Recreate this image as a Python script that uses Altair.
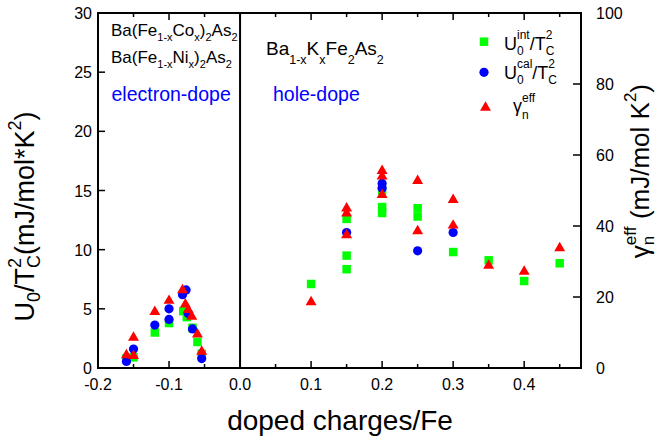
import altair as alt
import pandas as pd

FONT = "Liberation Sans"

# ---------------- data ----------------
# electron-doped side (negative doped charges)
e_green_x = [-0.16, -0.15, -0.12, -0.10, -0.080, -0.075, -0.067, -0.060, -0.054]
e_green_y = [0.8, 0.9, 3.0, 3.8, 4.8, 4.3, 3.4, 2.2, 1.2]
e_blue_x = [-0.16, -0.15, -0.12, -0.10, -0.10, -0.081, -0.076, -0.073, -0.067, -0.054]
e_blue_y = [0.55, 1.6, 3.63, 5.0, 4.1, 6.2, 6.6, 4.6, 3.3, 0.8]
e_red_x = [-0.16, -0.15, -0.15, -0.12, -0.10, -0.081, -0.077, -0.073, -0.068, -0.060, -0.054]
e_red_g = [4.1, 3.9, 9.0, 16.3, 19.4, 22.4, 18.4, 16.8, 14.9, 9.9, 5.1]

# hole-doped side
h_green_x = [0.10, 0.15, 0.15, 0.15, 0.20, 0.20, 0.20, 0.25, 0.25, 0.30, 0.35, 0.40, 0.45]
h_green_y = [7.1, 12.6, 9.5, 8.35, 15.0, 13.6, 13.1, 13.5, 12.8, 9.8, 9.1, 7.35, 8.85]
h_blue_x = [0.15, 0.20, 0.20, 0.25, 0.30]
h_blue_y = [11.45, 15.6, 15.2, 9.9, 11.45]
h_red_x = [0.10, 0.15, 0.15, 0.15, 0.20, 0.20, 0.20, 0.25, 0.25, 0.30, 0.30, 0.35, 0.40, 0.45]
h_red_g = [19.0, 45.4, 44.0, 37.9, 56.0, 54.4, 49.2, 53.2, 39.0, 47.8, 40.6, 29.3, 27.6, 34.2]

# axis ticks and labels
x_label_values = [-0.2, -0.1, 0.0, 0.1, 0.2, 0.3, 0.4]
x_label_text = ["-0.2", "-0.1", "0.0", "0.1", "0.2", "0.3", "0.4"]
x_tick_major = [-0.1, 0.0, 0.1, 0.2, 0.3, 0.4]
x_tick_minor = [-0.15, -0.05, 0.05, 0.15, 0.25, 0.35, 0.45]
y_left_values = [0, 5, 10, 15, 20, 25, 30]
y_left_text = ["0", "5", "10", "15", "20", "25", "30"]
y_right_values = [0, 20, 40, 60, 80, 100]
y_right_text = ["0", "20", "40", "60", "80", "100"]

# right axis (gamma, 0..100) spans the same height as left axis (0..30)
G_TO_LEFT = "30 / 100"

GREEN = "#00ff00"
BLUE = "#0000ff"
RED = "#ff0000"

# ---------------- layout ----------------
PL, PT = 98, 13
W, H = 483, 355

green_df = pd.DataFrame({"x": e_green_x + h_green_x, "y": e_green_y + h_green_y})
blue_df = pd.DataFrame({"x": e_blue_x + h_blue_x, "y": e_blue_y + h_blue_y})
red_df = pd.DataFrame({"x": e_red_x + h_red_x, "g": e_red_g + h_red_g})
one = pd.DataFrame({"a": [0]})

xscale = alt.Scale(domain=[-0.2, 0.48], nice=False, zero=False)
yscale = alt.Scale(domain=[0, 30], nice=False, zero=False)


def X(f):
    return alt.X(f, scale=xscale, axis=None)


def Y(f):
    return alt.Y(f, scale=yscale, axis=None)


green = alt.Chart(green_df).mark_point(shape="square", filled=True, size=72, color=GREEN,
                                       opacity=1, strokeWidth=0).encode(x=X("x:Q"), y=Y("y:Q"))
blue = alt.Chart(blue_df).mark_point(shape="circle", filled=True, size=85, color=BLUE,
                                     opacity=1, strokeWidth=0).encode(x=X("x:Q"), y=Y("y:Q"))
red = alt.Chart(red_df).transform_calculate(yl="datum.g * " + G_TO_LEFT).mark_point(
    shape="triangle-up", filled=True, size=120, color=RED, opacity=1, strokeWidth=0).encode(
    x=X("x:Q"), y=Y("yl:Q"))

vline_df = pd.DataFrame({"v": [0.0]})
vline = alt.Chart(vline_df).mark_rule(color="black", strokeWidth=2).encode(
    x=X("v:Q"), y=alt.value(0), y2=alt.value(H))

xt_major = pd.DataFrame({"v": x_tick_major})
xt_minor = pd.DataFrame({"v": x_tick_minor})
yt_left = pd.DataFrame({"v": y_left_values[1:-1]})
yt_right = pd.DataFrame({"g": y_right_values[1:-1]})


def xticks(df, length):
    bot = alt.Chart(df).mark_rule(color="black", strokeWidth=1.5).encode(
        x=X("v:Q"), y=alt.value(H), y2=alt.value(H - length))
    top = alt.Chart(df).mark_rule(color="black", strokeWidth=1.5).encode(
        x=X("v:Q"), y=alt.value(0), y2=alt.value(length))
    return [bot, top]


ytl = alt.Chart(yt_left).mark_rule(color="black", strokeWidth=1.5).encode(
    y=Y("v:Q"), x=alt.value(0), x2=alt.value(7))
ytr = alt.Chart(yt_right).transform_calculate(yl="datum.g * " + G_TO_LEFT).mark_rule(
    color="black", strokeWidth=1.5).encode(y=Y("yl:Q"), x=alt.value(W - 8), x2=alt.value(W))

# tick labels
xlab_df = pd.DataFrame({"v": x_label_values, "t": x_label_text})
ylab_df = pd.DataFrame({"v": y_left_values, "t": y_left_text})
glab_df = pd.DataFrame({"g": y_right_values, "t": y_right_text})

xlabels = alt.Chart(xlab_df).mark_text(font=FONT, fontSize=16, align="center", baseline="alphabetic",
                                       color="black").encode(x=X("v:Q"), y=alt.value(H + 22), text="t:N")
ylabels = alt.Chart(ylab_df).mark_text(font=FONT, fontSize=16, align="right", baseline="middle",
                                       color="black", dy=1).encode(y=Y("v:Q"), x=alt.value(-6), text="t:N")
glabels = alt.Chart(glab_df).transform_calculate(yl="datum.g * " + G_TO_LEFT).mark_text(
    font=FONT, fontSize=16, align="left", baseline="middle", color="black", dy=1).encode(
    y=Y("yl:Q"), x=alt.value(W + 15), text="t:N")

# ---------------- rich text helper ----------------
CW = {'A': 667, 'B': 667, 'C': 722, 'F': 611, 'K': 667, 'N': 722, 'T': 611, 'U': 722, 'J': 500,
      'a': 556, 'c': 500, 'd': 556, 'e': 556, 'f': 278, 'h': 556, 'i': 222, 'l': 222, 'm': 833,
      'n': 556, 'o': 556, 'p': 556, 'r': 333, 's': 500, 't': 278, 'x': 500, '(': 333, ')': 333,
      '-': 333, '/': 278, '*': 389, ' ': 278, 'γ': 500}


def tw(text, size):
    return sum(CW.get(ch, 556) for ch in text) / 1000.0 * size


def rich(pieces, x, y, angle=0, color="black"):
    layers = []
    pos = 0.0
    for text, size, dy, adv in pieces:
        stripped = text.lstrip(" ")
        pos += tw(text[:len(text) - len(stripped)], size)
        props = dict(text=stripped, font=FONT, fontSize=size, align="left", baseline="alphabetic",
                     dx=round(pos, 2), color=color)
        if dy:
            props["dy"] = dy
        if angle:
            props["angle"] = angle
        layers.append(alt.Chart(one).mark_text(**props).encode(
            x=alt.value(x - PL), y=alt.value(y - PT)))
        if adv:
            pos += tw(stripped, size)
    return layers


def total_len(pieces):
    pos = 0.0
    for text, size, dy, adv in pieces:
        if adv:
            pos += tw(text, size)
    return pos


texts = []
co = [("Ba(Fe", 17, 0, 1), ("1-x", 11, 5, 1), ("Co", 17, 0, 1), ("x", 11, 5, 1), (")", 17, 0, 1),
      ("2", 11, 5, 1), ("As", 17, 0, 1), ("2", 11, 5, 1)]
ni = [("Ba(Fe", 17, 0, 1), ("1-x", 11, 5, 1), ("Ni", 17, 0, 1), ("x", 11, 5, 1), (")", 17, 0, 1),
      ("2", 11, 5, 1), ("As", 17, 0, 1), ("2", 11, 5, 1)]
bk = [("Ba", 19, 0, 1), ("1-x", 12.5, 9, 1), ("K", 19, 0, 1), ("x", 12.5, 9, 1), ("Fe", 19, 0, 1),
      ("2", 12.5, 9, 1), ("As", 19, 0, 1), ("2", 12.5, 9, 1)]
texts += rich(co, 111, 36)
texts += rich(ni, 111, 62.5)
texts += rich([("electron-dope", 19.5, 0, 1)], 111.5, 100.5, color=BLUE)
texts += rich(bk, 266, 55)
texts += rich([("hole-dope", 19.5, 0, 1)], 273, 101, color=BLUE)

# legend
leg1 = [("U", 18, 0, 1), ("0", 12, 5.5, 0), ("int", 12, -11, 1), ("/T", 18, 0, 1), ("2", 12, -11, 0), ("C", 12, 5.5, 1)]
leg2 = [("U", 18, 0, 1), ("0", 12, 5.5, 0), ("cal", 12, -11, 1), ("/T", 18, 0, 1), ("2", 12, -11, 0), ("C", 12, 5.5, 1)]
leg3 = [("γ", 18, 0, 1), ("n", 12, 6.5, 0), ("eff", 12, -10.5, 1)]
texts += rich(leg1, 504, 49.5)
texts += rich(leg2, 504, 78.5)
texts += rich(leg3, 513, 112)

leg_sym = [
    alt.Chart(one).mark_point(shape="square", filled=True, size=72, color=GREEN, opacity=1, strokeWidth=0).encode(
        x=alt.value(484 - PL), y=alt.value(41.7 - PT)),
    alt.Chart(one).mark_point(shape="circle", filled=True, size=85, color=BLUE, opacity=1, strokeWidth=0).encode(
        x=alt.value(484 - PL), y=alt.value(72.3 - PT)),
    alt.Chart(one).mark_point(shape="triangle-up", filled=True, size=120, color=RED, opacity=1, strokeWidth=0).encode(
        x=alt.value(485.5 - PL), y=alt.value(106 - PT)),
]

# axis titles
ytitle = [("U", 27, 0, 1), ("0", 18, 6, 1), ("/T", 27, 0, 1), ("2", 18, -13, 0), ("C", 18, 6, 1),
          ("(mJ/mol*K", 27, 0, 1), ("2", 18, -13, 1), (")", 27, 0, 1)]
L = total_len(ytitle)
texts += rich(ytitle, 33.5, 216.5 + L / 2, angle=270)

gtitle = [("γ", 26, 0, 1), ("n", 17, 5, 0), ("eff", 17, -13, 1), (" (mJ/mol K", 26, 0, 1),
          ("2", 17, -13, 1), (")", 26, 0, 1)]
L2 = total_len(gtitle) + tw(" ", 26)
texts += rich(gtitle, 649, 167.5 + L2 / 2, angle=270)

xtitle = alt.Chart(one).mark_text(text="doped charges/Fe", font=FONT, fontSize=28, align="center",
                                  baseline="alphabetic", color="black").encode(
    x=alt.value(340 - PL), y=alt.value(430 - PT))

chart = alt.layer(
    vline, green, blue, red,
    *xticks(xt_major, 7), *xticks(xt_minor, 4), ytl, ytr,
    xlabels, ylabels, glabels,
    *leg_sym, *texts, xtitle
).properties(
    width=W, height=H,
    padding={"left": PL, "top": PT, "right": 660 - PL - W, "bottom": 442 - PT - H},
    autosize=alt.AutoSizeParams(type="none"),
    background="white",
).configure_view(stroke="black", strokeWidth=2)

chart.save("out.html", embed_options={"renderer": "svg", "actions": False})
